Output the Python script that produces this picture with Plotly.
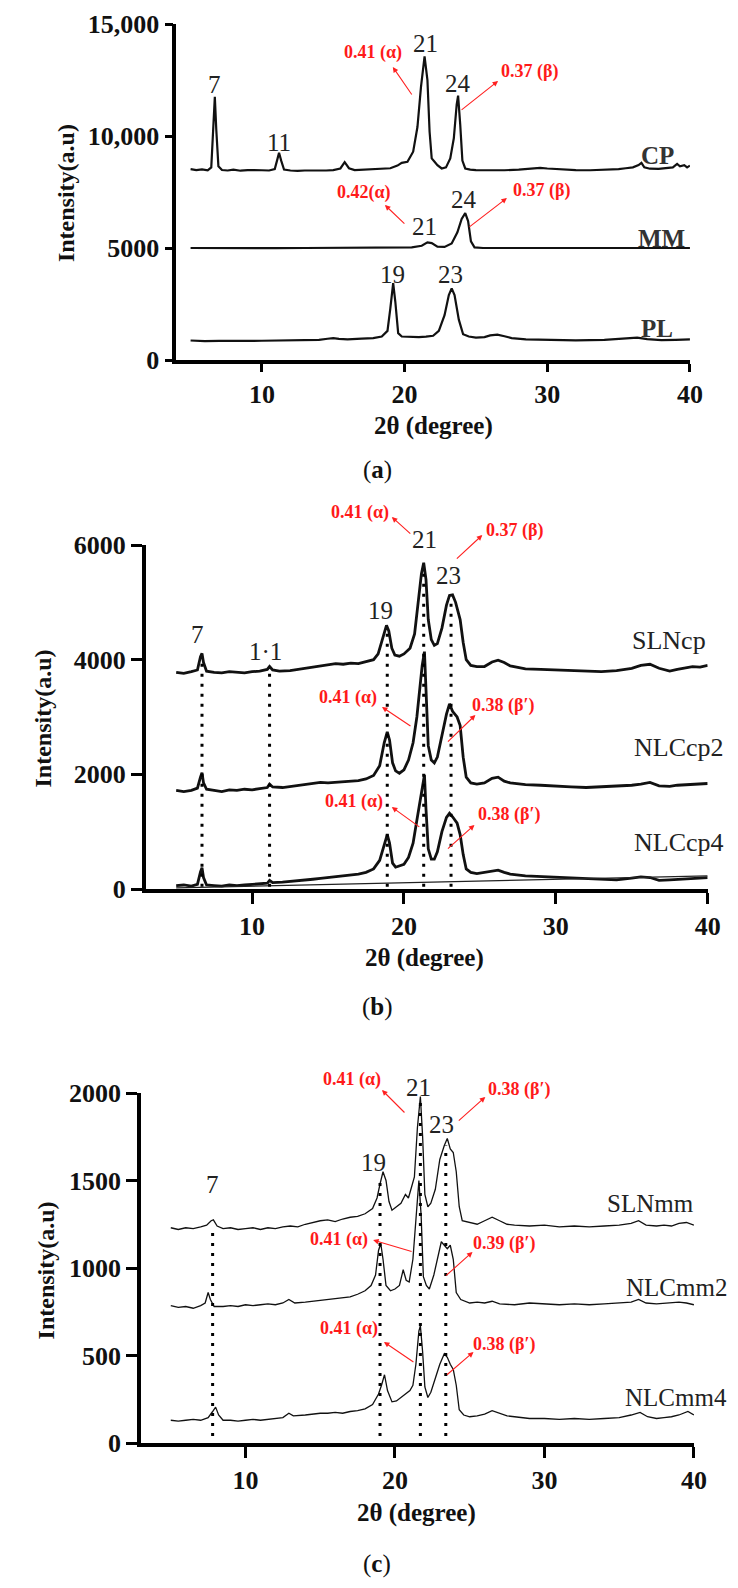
import plotly.graph_objects as go
from plotly.subplots import make_subplots

# the page body adds an 8px margin, so the figure is drawn 8px smaller and positions are shifted back
OFF = 8
FW, FH = 730, 1580
SERIF = "Liberation Serif, Times New Roman, serif"

# ---------------- panel (a): bulk lipids ----------------
cp_pts = [(5.0, 8520), (5.4, 8480), (5.8, 8510), (6.2, 8470), (6.45, 8600), (6.6, 10500), (6.7, 11750),
          (6.8, 10300), (6.95, 8650), (7.2, 8480), (7.6, 8460), (8.0, 8500), (8.5, 8450), (9.0, 8480),
          (9.5, 8460), (10.0, 8470), (10.5, 8460), (10.9, 8520), (11.1, 9000), (11.2, 9250), (11.35, 8900),
          (11.55, 8500), (12.0, 8460), (12.5, 8440), (13.0, 8460), (13.5, 8450), (14.0, 8470), (14.5, 8460),
          (15.0, 8480), (15.5, 8550), (15.8, 8830), (16.1, 8560), (16.5, 8480), (17.0, 8500), (17.5, 8520),
          (18.0, 8510), (18.5, 8540), (19.0, 8560), (19.5, 8680), (19.8, 8800), (20.2, 8850), (20.6, 9300),
          (20.9, 10400), (21.15, 12200), (21.4, 13550), (21.6, 12500), (21.75, 10200), (21.9, 9000),
          (22.1, 8850), (22.3, 8700), (22.6, 8550), (22.9, 8600), (23.2, 9000), (23.45, 9900), (23.65, 11400),
          (23.75, 11800), (23.9, 10500), (24.05, 8900), (24.25, 8550), (24.6, 8500), (25.0, 8480), (25.5, 8470),
          (26.0, 8480), (27.0, 8470), (28.0, 8500), (29.0, 8540), (29.5, 8580), (30.0, 8550), (31.0, 8500),
          (32.0, 8480), (33.0, 8470), (34.0, 8480), (35.0, 8520), (35.5, 8560), (36.0, 8600), (36.4, 8700),
          (36.6, 8800), (36.8, 8600), (37.2, 8540), (37.8, 8530), (38.3, 8560), (38.8, 8600), (39.1, 8750),
          (39.3, 8650), (39.6, 8700), (39.8, 8600), (40.0, 8680)]
mm_pts = [(5.0, 5000), (7.0, 4990), (9.0, 5000), (11.0, 4990), (13.0, 5000), (15.0, 5000), (17.0, 5010),
          (19.0, 5010), (20.5, 5030), (21.2, 5100), (21.6, 5250), (21.9, 5220), (22.3, 5060), (22.8, 5050),
          (23.3, 5200), (23.7, 5700), (24.0, 6300), (24.25, 6560), (24.45, 6200), (24.65, 5300), (24.9, 5030),
          (25.5, 5000), (27.0, 5000), (29.0, 5010), (31.0, 5000), (33.0, 5000), (35.0, 5000), (36.5, 5020),
          (38.0, 5000), (40.0, 5000)]
pl_pts = [(5.0, 870), (6.0, 840), (7.0, 850), (8.0, 840), (9.0, 850), (10.0, 860), (11.0, 870), (12.0, 880),
          (13.0, 890), (14.0, 900), (14.6, 950), (15.0, 980), (15.4, 940), (16.0, 920), (17.0, 950), (17.8, 980),
          (18.4, 1050), (18.8, 1300), (19.0, 2300), (19.2, 3430), (19.35, 2600), (19.55, 1200), (19.8, 1050),
          (20.5, 1030), (21.0, 1020), (21.5, 1040), (22.0, 1080), (22.4, 1300), (22.8, 2000), (23.1, 2900),
          (23.3, 3200), (23.5, 2900), (23.8, 1800), (24.1, 1150), (24.5, 1050), (25.0, 1000), (25.6, 1020),
          (26.0, 1100), (26.5, 1130), (27.0, 1060), (27.5, 980), (28.5, 920), (30.0, 900), (32.0, 880),
          (34.0, 900), (35.5, 950), (36.3, 1000), (37.0, 930), (38.0, 890), (39.0, 900), (40.0, 920)]

# ---------------- panel (b): CP based nanoparticles ----------------
slncp_pts = [(5.0, 3780), (5.5, 3760), (6.0, 3790), (6.4, 3820), (6.6, 4050), (6.7, 4110), (6.8, 3950),
             (7.0, 3800), (7.5, 3780), (8.0, 3770), (8.5, 3790), (9.0, 3780), (9.5, 3770), (10.0, 3790),
             (10.5, 3800), (11.0, 3830), (11.15, 3880), (11.35, 3820), (11.8, 3800), (12.5, 3810), (13.0, 3830),
             (13.5, 3850), (14.0, 3870), (14.5, 3890), (15.0, 3900), (15.5, 3930), (16.0, 3920), (16.5, 3940),
             (17.0, 3930), (17.5, 3960), (18.0, 4000), (18.3, 4100), (18.6, 4400), (18.85, 4600), (19.0, 4500),
             (19.2, 4200), (19.4, 4080), (19.7, 4060), (20.0, 4100), (20.4, 4200), (20.7, 4450), (20.95, 5000),
             (21.15, 5500), (21.3, 5690), (21.45, 5400), (21.6, 4700), (21.8, 4350), (22.0, 4250), (22.2, 4280),
             (22.5, 4550), (22.8, 4950), (23.0, 5120), (23.2, 5130), (23.4, 5000), (23.7, 4700), (23.9, 4300),
             (24.1, 4000), (24.4, 3900), (24.8, 3880), (25.3, 3880), (25.8, 3960), (26.2, 3990), (26.6, 3950),
             (27.0, 3890), (28.0, 3840), (29.0, 3830), (30.0, 3820), (31.0, 3820), (32.0, 3800), (33.0, 3790),
             (34.0, 3810), (35.0, 3850), (35.6, 3900), (36.2, 3920), (36.8, 3850), (37.5, 3800), (38.0, 3830),
             (38.5, 3860), (39.0, 3880), (39.5, 3870), (40.0, 3900)]
nlccp2_pts = [(5.0, 1720), (5.5, 1700), (6.0, 1720), (6.4, 1760), (6.6, 1950), (6.7, 2030), (6.8, 1850),
              (7.0, 1740), (7.5, 1720), (8.0, 1700), (8.5, 1730), (9.0, 1720), (9.5, 1740), (10.0, 1730),
              (10.5, 1750), (11.0, 1770), (11.15, 1830), (11.35, 1780), (12.0, 1770), (12.5, 1790), (13.0, 1800),
              (13.5, 1820), (14.0, 1840), (14.5, 1860), (15.0, 1850), (15.5, 1860), (16.0, 1880), (16.5, 1890),
              (17.0, 1890), (17.5, 1920), (18.0, 1980), (18.4, 2150), (18.7, 2550), (18.9, 2740), (19.05, 2600),
              (19.25, 2200), (19.45, 2060), (19.7, 2020), (20.0, 2080), (20.3, 2250), (20.6, 2550), (20.85, 3000),
              (21.05, 3500), (21.2, 3900), (21.35, 4140), (21.45, 3500), (21.6, 2500), (21.8, 2250), (22.0, 2200),
              (22.2, 2300), (22.5, 2700), (22.8, 3050), (23.0, 3230), (23.2, 3100), (23.5, 3000), (23.7, 2850),
              (23.9, 2300), (24.1, 1950), (24.4, 1850), (24.8, 1830), (25.3, 1850), (25.8, 1930), (26.2, 1950),
              (26.6, 1880), (27.0, 1850), (28.0, 1820), (29.0, 1810), (30.0, 1790), (31.0, 1780), (32.0, 1770),
              (33.0, 1780), (34.0, 1790), (35.0, 1810), (35.6, 1830), (36.2, 1860), (36.8, 1800), (37.5, 1790),
              (38.0, 1810), (39.0, 1830), (40.0, 1840)]
nlccp4_pts = [(5.0, 60), (5.5, 70), (6.0, 50), (6.4, 80), (6.6, 300), (6.7, 370), (6.8, 200), (7.0, 70),
              (7.5, 60), (8.0, 50), (8.5, 70), (9.0, 60), (9.5, 70), (10.0, 80), (10.5, 90), (11.0, 100),
              (11.15, 150), (11.35, 110), (12.0, 120), (12.5, 130), (13.0, 140), (13.5, 155), (14.0, 170),
              (14.5, 185), (15.0, 200), (15.5, 215), (16.0, 230), (16.5, 245), (17.0, 260), (17.5, 290),
              (18.0, 350), (18.4, 500), (18.7, 800), (18.9, 950), (19.05, 800), (19.25, 450), (19.45, 380),
              (19.7, 400), (20.0, 430), (20.3, 550), (20.6, 800), (20.85, 1200), (21.05, 1500), (21.2, 1700),
              (21.35, 1990), (21.45, 1400), (21.6, 700), (21.8, 520), (22.0, 520), (22.2, 650), (22.5, 1000),
              (22.8, 1250), (23.0, 1320), (23.2, 1260), (23.5, 1150), (23.7, 950), (23.9, 600), (24.1, 350),
              (24.4, 290), (24.8, 270), (25.3, 290), (25.8, 320), (26.2, 330), (26.6, 290), (27.0, 260),
              (28.0, 230), (29.0, 220), (30.0, 210), (31.0, 190), (32.0, 180), (33.0, 170), (34.0, 160),
              (35.0, 190), (35.6, 210), (36.2, 200), (36.8, 150), (37.5, 160), (38.0, 170), (39.0, 190), (40.0, 200)]
bg_b_pts = [(5.0, 20), (40.0, 230)]
drop_b_x = [6.7, 11.15, 18.9, 21.3, 23.1]
drop_b_top = [4050, 3850, 4550, 5600, 5100]

# ---------------- panel (c): MM based nanoparticles ----------------
slnmm_pts = [(5.0, 1230), (5.5, 1220), (6.0, 1230), (6.5, 1225), (7.0, 1235), (7.4, 1245), (7.7, 1270),
             (7.85, 1275), (8.1, 1240), (8.5, 1225), (9.0, 1230), (9.5, 1220), (10.0, 1225), (10.5, 1230),
             (11.0, 1220), (11.5, 1230), (12.0, 1225), (12.5, 1235), (13.0, 1240), (13.5, 1235), (14.0, 1250),
             (14.5, 1260), (15.0, 1270), (15.5, 1275), (16.0, 1265), (16.5, 1280), (17.0, 1290), (17.5, 1295),
             (18.0, 1310), (18.5, 1340), (18.8, 1400), (19.0, 1480), (19.2, 1550), (19.4, 1500), (19.6, 1380),
             (19.8, 1330), (20.1, 1350), (20.4, 1370), (20.7, 1420), (20.9, 1400), (21.1, 1460), (21.3, 1520),
             (21.5, 1800), (21.7, 1980), (21.85, 1750), (22.0, 1420), (22.2, 1350), (22.4, 1370), (22.7, 1450),
             (23.0, 1620), (23.3, 1700), (23.5, 1740), (23.7, 1680), (23.9, 1660), (24.1, 1550), (24.3, 1350),
             (24.5, 1270), (25.0, 1260), (25.5, 1250), (26.0, 1270), (26.5, 1290), (27.0, 1270), (27.5, 1250),
             (28.0, 1245), (29.0, 1240), (30.0, 1245), (31.0, 1235), (32.0, 1240), (33.0, 1235), (34.0, 1240),
             (35.0, 1245), (35.8, 1255), (36.3, 1270), (36.8, 1245), (37.5, 1240), (38.0, 1245), (38.5, 1240),
             (39.0, 1255), (39.5, 1260), (40.0, 1245)]
nlcmm2_pts = [(5.0, 785), (5.5, 775), (6.0, 780), (6.5, 770), (7.0, 785), (7.3, 800), (7.5, 860), (7.65, 820),
              (7.9, 780), (8.5, 780), (9.0, 785), (9.5, 780), (10.0, 790), (10.5, 785), (11.0, 790), (11.5, 795),
              (12.0, 790), (12.5, 800), (12.9, 820), (13.3, 800), (14.0, 805), (14.5, 810), (15.0, 815),
              (15.5, 820), (16.0, 825), (16.5, 830), (17.0, 835), (17.5, 850), (18.0, 870), (18.4, 900),
              (18.7, 960), (18.9, 1100), (19.05, 1140), (19.2, 1050), (19.4, 900), (19.7, 870), (20.0, 880),
              (20.3, 900), (20.55, 990), (20.75, 930), (20.95, 920), (21.2, 1050), (21.4, 1300), (21.6, 1500),
              (21.75, 1300), (21.9, 950), (22.1, 900), (22.3, 880), (22.6, 960), (22.9, 1080), (23.1, 1150),
              (23.3, 1130), (23.5, 1110), (23.7, 1130), (23.9, 1050), (24.1, 860), (24.4, 820), (25.0, 800),
              (25.5, 805), (26.0, 800), (26.5, 810), (27.0, 795), (28.0, 790), (29.0, 800), (30.0, 795),
              (31.0, 790), (32.0, 795), (33.0, 790), (34.0, 795), (35.0, 800), (35.8, 805), (36.3, 820),
              (36.8, 800), (37.5, 795), (38.5, 800), (39.0, 805), (39.5, 800), (40.0, 790)]
nlcmm4_pts = [(5.0, 130), (5.5, 125), (6.0, 130), (6.5, 135), (7.0, 130), (7.5, 145), (7.8, 180), (8.0, 205),
              (8.2, 160), (8.5, 130), (9.0, 130), (9.5, 125), (10.0, 130), (10.5, 135), (11.0, 130), (11.5, 135),
              (12.0, 140), (12.5, 145), (12.9, 170), (13.2, 155), (14.0, 160), (14.5, 165), (15.0, 170),
              (15.5, 170), (16.0, 175), (16.5, 170), (17.0, 180), (17.5, 185), (18.0, 195), (18.5, 220),
              (18.9, 280), (19.1, 330), (19.3, 390), (19.5, 300), (19.8, 235), (20.1, 240), (20.4, 260),
              (20.7, 280), (21.0, 300), (21.2, 330), (21.4, 450), (21.6, 640), (21.7, 670), (21.85, 520),
              (22.0, 320), (22.2, 260), (22.4, 290), (22.7, 370), (23.0, 450), (23.3, 510), (23.5, 490),
              (23.7, 450), (23.9, 420), (24.1, 330), (24.3, 190), (24.6, 160), (25.0, 150), (25.5, 155),
              (26.0, 165), (26.5, 185), (27.0, 170), (27.5, 155), (28.0, 150), (29.0, 140), (30.0, 140),
              (31.0, 135), (32.0, 140), (33.0, 135), (34.0, 140), (35.0, 145), (35.8, 160), (36.4, 175),
              (36.9, 150), (37.5, 140), (38.0, 145), (38.5, 150), (39.0, 160), (39.6, 180), (40.0, 160)]
drop_c_x = [7.8, 19.0, 21.7, 23.4]
drop_c_top = [1230, 1500, 1950, 1700]

# tick labels
ticks_a = [0, 5000, 10000, 15000]
ticktext_a = ["0", "5000", "10,000", "15,000"]
ticks_b = [0, 2000, 4000, 6000]
ticks_c = [0, 500, 1000, 1500, 2000]
ticks_x = [10, 20, 30, 40]


def px(x):
    # slight horizontal correction of the positions measured on the reference
    return (0.984 * x + 11 - OFF) / FW


def py(y):
    return 1 - (y - OFF) / FH


def unzip(pts):
    return [p[0] for p in pts], [p[1] for p in pts]


def droplines(xs, tops, bottom):
    dx, dy = [], []
    for x, t in zip(xs, tops):
        dx += [x, x, None]
        dy += [bottom, t, None]
    return dx, dy


fig = make_subplots(rows=3, cols=1)

for pts, row, lw in [(cp_pts, 1, 2.2), (mm_pts, 1, 2.2), (pl_pts, 1, 2.2),
                     (slncp_pts, 2, 2.8), (nlccp2_pts, 2, 2.8), (nlccp4_pts, 2, 2.8),
                     (slnmm_pts, 3, 1.3), (nlcmm2_pts, 3, 1.3), (nlcmm4_pts, 3, 1.3)]:
    x, y = unzip(pts)
    fig.add_trace(go.Scatter(x=x, y=y, mode="lines", line=dict(color="#111111", width=lw),
                             hoverinfo="skip"), row=row, col=1)

x, y = unzip(bg_b_pts)
fig.add_trace(go.Scatter(x=x, y=y, mode="lines", line=dict(color="#222222", width=1.2)), row=2, col=1)

dx, dy = droplines(drop_b_x, drop_b_top, 40)
fig.add_trace(go.Scatter(x=dx, y=dy, mode="lines",
                         line=dict(color="black", width=3, dash="3px,7px")), row=2, col=1)
dx, dy = droplines(drop_c_x, drop_c_top, 40)
fig.add_trace(go.Scatter(x=dx, y=dy, mode="lines",
                         line=dict(color="black", width=3, dash="3px,7px")), row=3, col=1)

axis_common = dict(showline=True, linecolor="black", linewidth=3.5, ticks="outside", tickwidth=3,
                   tickcolor="black", showgrid=False, zeroline=False, automargin=False,
                   tickfont=dict(family=SERIF, size=26, color="#111111", weight="bold"))

fig.update_layout(
    width=FW, height=FH, margin=dict(l=0, r=0, t=0, b=0, autoexpand=False),
    paper_bgcolor="white", plot_bgcolor="white", showlegend=False,
    xaxis=dict(domain=[px(168), px(690)], range=[4, 40], tickvals=ticks_x, ticklen=8, **axis_common),
    yaxis=dict(domain=[py(360), py(24)], range=[0, 15000], tickvals=ticks_a, ticktext=ticktext_a,
               ticklen=8, **axis_common),
    xaxis2=dict(domain=[px(137), px(708)], range=[3, 40], tickvals=ticks_x, ticklen=11, **axis_common),
    yaxis2=dict(domain=[py(889), py(545)], range=[0, 6000], tickvals=ticks_b, ticklen=11, **axis_common),
    xaxis3=dict(domain=[px(132), px(694)], range=[3, 40], tickvals=ticks_x, ticklen=11, **axis_common),
    yaxis3=dict(domain=[py(1443), py(1093)], range=[0, 2000], tickvals=ticks_c, ticklen=11, **axis_common),
)

ann = []


def text(s, x, y, size, color="#222222", bold=False, angle=0):
    ann.append(dict(text=s, x=px(x), y=py(y), xref="paper", yref="paper", showarrow=False,
                    xanchor="center", yanchor="middle", textangle=angle,
                    font=dict(family=SERIF, size=size, color=color, weight="bold" if bold else "normal")))


def arrow(head, tail):
    ann.append(dict(text="", x=px(head[0]), y=py(head[1]), xref="paper", yref="paper",
                    ax=tail[0] - head[0], ay=tail[1] - head[1], showarrow=True,
                    arrowhead=2, arrowsize=1, arrowwidth=1.1, arrowcolor="#ff2020", standoff=0))


# axis titles and panel letters
for yx, yy, xx, xy, lx, ly, letter in [(56, 193, 429, 426, 372, 470, "a"),
                                        (33, 718, 420, 958, 372, 1007, "b"),
                                        (36, 1270, 412, 1513, 372, 1564, "c")]:
    text("Intensity(a.u)", yx, yy, 24, "#111111", True, -90)
    text("2θ (degree)", xx, xy, 25, "#111111", True)
    text("(<b>%s</b>)" % letter, lx, ly, 25, "#111111")

# peak numbers
for s, x, y in [("7", 207, 84), ("11", 272, 142), ("21", 421, 43), ("24", 454, 83),
                ("21", 420, 227), ("24", 460, 200), ("19", 388, 274), ("23", 447, 274),
                ("7", 190, 634), ("1·1", 259, 652), ("19", 376, 610), ("21", 420, 539), ("23", 445, 575),
                ("7", 205, 1184), ("19", 368, 1162), ("21", 414, 1087), ("23", 438, 1124)]:
    text(s, x, y, 25, "#222222")

# sample names
for s, x, y in [("CP", 657, 155), ("MM", 661, 238), ("PL", 656, 329)]:
    text(s, x, y, 25, "#333333", True)
for s, x, y, fs in [("SLNcp", 669, 640, 26), ("NLCcp2", 679, 747, 26), ("NLCcp4", 679, 842, 26),
                    ("SLNmm", 650, 1203, 25), ("NLCmm2", 676, 1287, 25), ("NLCmm4", 676, 1397, 25)]:
    text(s, x, y, fs, "#222222")

# d-spacing labels (red)
for s, x, y in [("0.41 (α)", 368, 52), ("0.37 (β)", 527, 72), ("0.42(α)", 359, 193), ("0.37 (β)", 539, 191),
                ("0.41 (α)", 355, 513), ("0.37 (β)", 512, 530), ("0.41 (α)", 342, 697),
                ("0.38 (β′)", 500, 705), ("0.41 (α)", 349, 801), ("0.38 (β′)", 507, 815),
                ("0.41 (α)", 347, 1079), ("0.38 (β′)", 517, 1089), ("0.41 (α)", 333, 1239),
                ("0.39 (β′)", 502, 1243), ("0.41 (α)", 344, 1328), ("0.38 (β′)", 502, 1344)]:
    text(s, x, y, 18, "#ff1a1a", True)

for head, tail in [((388, 67), (408, 96)), ((495, 81), (457, 111)), ((380, 205), (401, 225)),
                   ((504, 198), (465, 228)),
                   ((387, 517), (407, 535)), ((479, 535), (452, 560)), ((377, 707), (407, 727)),
                   ((472, 715), (443, 743)), ((387, 807), (416, 828)), ((471, 825), (443, 850)),
                   ((377, 1090), (401, 1114)), ((482, 1097), (454, 1122)), ((368, 1240), (408, 1252)),
                   ((469, 1252), (441, 1277)), ((379, 1342), (410, 1363)), ((470, 1352), (442, 1376))]:
    arrow(head, tail)

fig.update_layout(annotations=ann)
fig.write_html("out.html")
